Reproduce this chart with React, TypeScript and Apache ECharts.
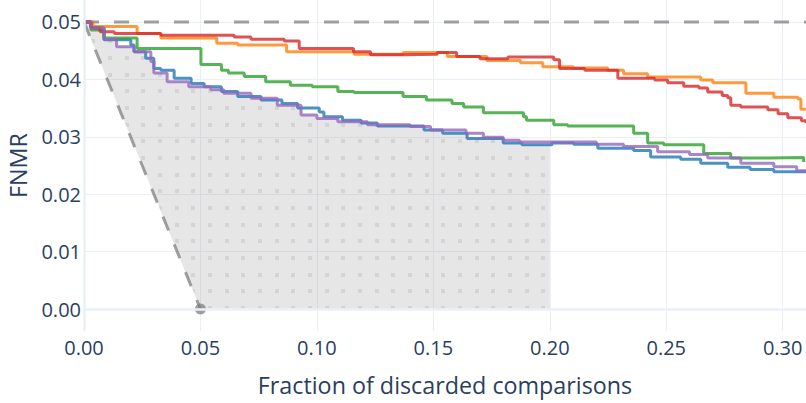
import React, { useEffect, useRef } from "react";
import * as echarts from "echarts";

// ---- data ----
const xRange = [0, 0.31];
const yRange = [-0.00383, 0.05383];

const thresholdLine: number[][] = [
  [0, 0.05],
  [0.31, 0.05],
];
const diagonalLine: number[][] = [
  [0, 0.05],
  [0.05, 0],
];
const fillRegionEnd = 0.2;

const seriesNames = ["Method A", "Method B", "Method C", "Method D", "Method E"];
const seriesColors = ["#1f77b4", "#ff7f0e", "#2ca02c", "#d62728", "#9467bd"];

const blueCurve: number[][] = [
  [0, 0.05], [0.003, 0.049], [0.0086, 0.0469], [0.0201, 0.046], [0.0215, 0.0448],
  [0.0265, 0.0437], [0.03, 0.0419], [0.033, 0.0416], [0.0387, 0.0402], [0.046, 0.0393],
  [0.0516, 0.0387], [0.059, 0.0379], [0.066, 0.037], [0.076, 0.0364], [0.085, 0.0358],
  [0.0917, 0.035], [0.101, 0.0343], [0.103, 0.0335], [0.111, 0.0329], [0.119, 0.0324],
  [0.126, 0.0319], [0.146, 0.0312], [0.154, 0.0306], [0.1645, 0.0297], [0.18, 0.0289],
  [0.188, 0.0286], [0.201, 0.0289], [0.2102, 0.0287], [0.2206, 0.028], [0.236, 0.0276],
  [0.2433, 0.0265], [0.2562, 0.0261], [0.2648, 0.0254], [0.2764, 0.0247], [0.286, 0.0243],
  [0.2962, 0.0239], [0.31, 0.0237],
];
const orangeCurve: number[][] = [
  [0, 0.05], [0.0039, 0.0492], [0.0228, 0.048], [0.033, 0.0472], [0.057, 0.0463],
  [0.066, 0.046], [0.087, 0.0448], [0.116, 0.0444], [0.137, 0.0447], [0.156, 0.044],
  [0.173, 0.0433], [0.1874, 0.0429], [0.197, 0.0422], [0.2102, 0.042], [0.2249, 0.0416],
  [0.2317, 0.041], [0.242, 0.0404], [0.2648, 0.0399], [0.27, 0.0394], [0.2842, 0.0376],
  [0.2962, 0.0369], [0.3065, 0.0366], [0.3078, 0.0348], [0.31, 0.0348],
];
const greenCurve: number[][] = [
  [0, 0.05], [0.003, 0.0486], [0.0086, 0.0472], [0.0228, 0.0454], [0.0502, 0.0426],
  [0.059, 0.0416], [0.062, 0.0411], [0.0688, 0.0405], [0.078, 0.0396], [0.0886, 0.039],
  [0.098, 0.0387], [0.109, 0.0379], [0.116, 0.0377], [0.137, 0.037], [0.147, 0.0364],
  [0.158, 0.0358], [0.163, 0.0352], [0.1715, 0.0342], [0.1887, 0.0335], [0.19, 0.0329],
  [0.2017, 0.0321], [0.2077, 0.0319], [0.236, 0.0306], [0.242, 0.0289], [0.2489, 0.0286],
  [0.2661, 0.0271], [0.2777, 0.0263], [0.2936, 0.0264], [0.309, 0.0256],
];
const redCurve: number[][] = [
  [0, 0.05], [0.003, 0.049], [0.0069, 0.0483], [0.013, 0.048], [0.033, 0.0477],
  [0.0645, 0.0474], [0.0717, 0.047], [0.086, 0.0467], [0.0924, 0.0454], [0.1157, 0.0448],
  [0.123, 0.0443], [0.137, 0.0444], [0.1517, 0.0447], [0.16, 0.044], [0.17, 0.0436],
  [0.182, 0.0439], [0.2017, 0.0434], [0.2042, 0.0419], [0.215, 0.0416], [0.2292, 0.0402],
  [0.245, 0.0399], [0.2506, 0.0394], [0.2575, 0.0388], [0.264, 0.0385], [0.2678, 0.0378],
  [0.274, 0.0372], [0.2764, 0.0368], [0.2777, 0.0355], [0.282, 0.0352], [0.2936, 0.0347],
  [0.298, 0.034], [0.3022, 0.0333], [0.308, 0.0328], [0.31, 0.0324],
];
const purpleCurve: number[][] = [
  [0, 0.05], [0.003, 0.049], [0.0086, 0.047], [0.014, 0.0457], [0.0215, 0.0448],
  [0.0287, 0.0431], [0.03, 0.0411], [0.0357, 0.0396], [0.045, 0.0387], [0.0545, 0.0382],
  [0.06, 0.0376], [0.0717, 0.0367], [0.083, 0.0355], [0.0932, 0.0338], [0.1, 0.0332],
  [0.109, 0.0326], [0.1217, 0.0321], [0.14, 0.0318], [0.1488, 0.0312], [0.164, 0.0306],
  [0.1715, 0.0299], [0.18, 0.0294], [0.187, 0.0291], [0.22, 0.0287], [0.2317, 0.0283],
  [0.2463, 0.0274], [0.26, 0.0269], [0.2678, 0.0263], [0.282, 0.0254], [0.2962, 0.0248],
  [0.306, 0.0241], [0.31, 0.0239],
];
const curves = [blueCurve, orangeCurve, greenCurve, redCurve, purpleCurve];

const FONT = '"Open Sans", verdana, arial, sans-serif';
const TEXT = "#2a3f5f";
const GRID = "#ebf0f8";
const DASH_GRAY = "rgba(128,128,128,0.75)";

function valueAt(c: number[][], x: number) {
  let v = c[0][1];
  for (const p of c) {
    if (p[0] <= x) v = p[1];
    else break;
  }
  return v;
}

function buildFillPolygon() {
  const xs = Array.from(
    new Set(curves.flatMap((c) => c.map((p) => p[0])).filter((x) => x < fillRegionEnd))
  ).sort((a, b) => a - b);
  const top: number[][] = [];
  xs.forEach((x, i) => {
    const v = Math.min(...curves.map((c) => valueAt(c, x)));
    if (i > 0) top.push([x, top[top.length - 1][1]]);
    top.push([x, v]);
  });
  top.push([fillRegionEnd, top[top.length - 1][1]]);
  const d = diagonalLine.slice().reverse();
  return [...top, [fillRegionEnd, 0], ...d];
}

function makePattern() {
  const size = 50;
  const cv = document.createElement("canvas");
  cv.width = size;
  cv.height = size;
  const ctx = cv.getContext("2d")!;
  ctx.fillStyle = "rgba(128,128,128,0.2)";
  ctx.fillRect(0, 0, size, size);
  const pos = [0, 17, 33];
  for (const px of pos) {
    for (const py of pos) {
      ctx.clearRect(px + 8, py + 6, 4, 4);
      ctx.fillStyle = "rgba(128,128,128,0.34)";
      ctx.fillRect(px + 8, py + 6, 4, 4);
    }
  }
  return {
    image: cv.toDataURL(),
    repeat: "repeat",
    imageWidth: size,
    imageHeight: size,
  };
}

export default function App() {
  const ref = useRef<HTMLDivElement>(null);

  useEffect(() => {
    if (!ref.current) return;
    const chart = echarts.init(ref.current, null, { renderer: "svg" });
    const polygon = buildFillPolygon();
    const pattern = makePattern();

    const option: any = {
      animation: false,
      backgroundColor: "#ffffff",
      textStyle: { fontFamily: FONT },
      grid: {
        left: 84,
        right: 0,
        top: 0,
        bottom: 72,
        containLabel: false,
        outerBoundsMode: "none",
      },
      xAxis: {
        type: "value",
        min: xRange[0],
        max: xRange[1],
        splitNumber: 6,
        axisLine: { show: false },
        axisTick: { show: false },
        splitLine: { show: true, lineStyle: { color: GRID, width: 1 }, showMinLine: false, showMaxLine: false },
        axisLabel: {
          color: TEXT,
          fontSize: 20,
          fontFamily: FONT,
          margin: 6,
          showMaxLabel: false,
          formatter: (v: number) => v.toFixed(2),
        },
        name: "Fraction of discarded comparisons",
        nameLocation: "middle",
        nameGap: 42,
        nameTextStyle: { color: TEXT, fontSize: 23.3, fontFamily: FONT },
      },
      yAxis: {
        type: "value",
        min: yRange[0],
        max: yRange[1],
        splitNumber: 6,
        axisLine: { show: false },
        axisTick: { show: false },
        splitLine: { show: true, lineStyle: { color: GRID, width: 1 }, showMinLine: false, showMaxLine: false },
        axisLabel: {
          color: TEXT,
          fontSize: 20,
          fontFamily: FONT,
          margin: 3,
          showMinLabel: false,
          showMaxLabel: false,
          formatter: (v: number) => v.toFixed(2),
        },
        name: "FNMR",
        nameLocation: "middle",
        nameRotate: 90,
        nameGap: 55,
        nameTextStyle: { color: TEXT, fontSize: 23.3, fontFamily: FONT },
      },
      series: [
        {
          type: "line",
          data: [],
          silent: true,
          markLine: {
            silent: true,
            symbol: ["none", "none"],
            label: { show: false },
            emphasis: { disabled: true },
            lineStyle: { type: "solid", color: GRID, width: 2.5 },
            data: [{ xAxis: 0 }, { yAxis: 0 }],
          },
        },
        {
          type: "custom",
          silent: true,
          data: [[0, 0]],
          renderItem: (_params: any, api: any) => {
            const pts = polygon.map((p) => api.coord(p));
            return {
              type: "polygon",
              shape: { points: pts },
              style: { fill: pattern, stroke: "none" },
            };
          },
        },
        {
          type: "line",
          data: thresholdLine,
          silent: true,
          showSymbol: false,
          lineStyle: { color: DASH_GRAY, width: 3, type: [15, 15] },
        },
        {
          type: "line",
          data: [
            { value: diagonalLine[0], symbol: "none" },
            { value: diagonalLine[1], symbol: "circle", symbolSize: 11 },
          ],
          silent: true,
          showSymbol: true,
          itemStyle: { color: "rgba(128,128,128,0.75)" },
          lineStyle: { color: DASH_GRAY, width: 3, type: [15, 15] },
        },
        ...curves.map((c, i) => ({
          name: seriesNames[i],
          type: "line",
          step: "end",
          data: c,
          silent: true,
          showSymbol: false,
          lineStyle: { color: seriesColors[i], width: 3, opacity: 0.8 },
          itemStyle: { color: seriesColors[i] },
        })),
      ],
    };
    chart.setOption(option);
    return () => chart.dispose();
  }, []);

  return (
    <div
      ref={ref}
      style={{ position: "absolute", left: 0, top: 0, width: 806, height: 403 }}
    />
  );
}
